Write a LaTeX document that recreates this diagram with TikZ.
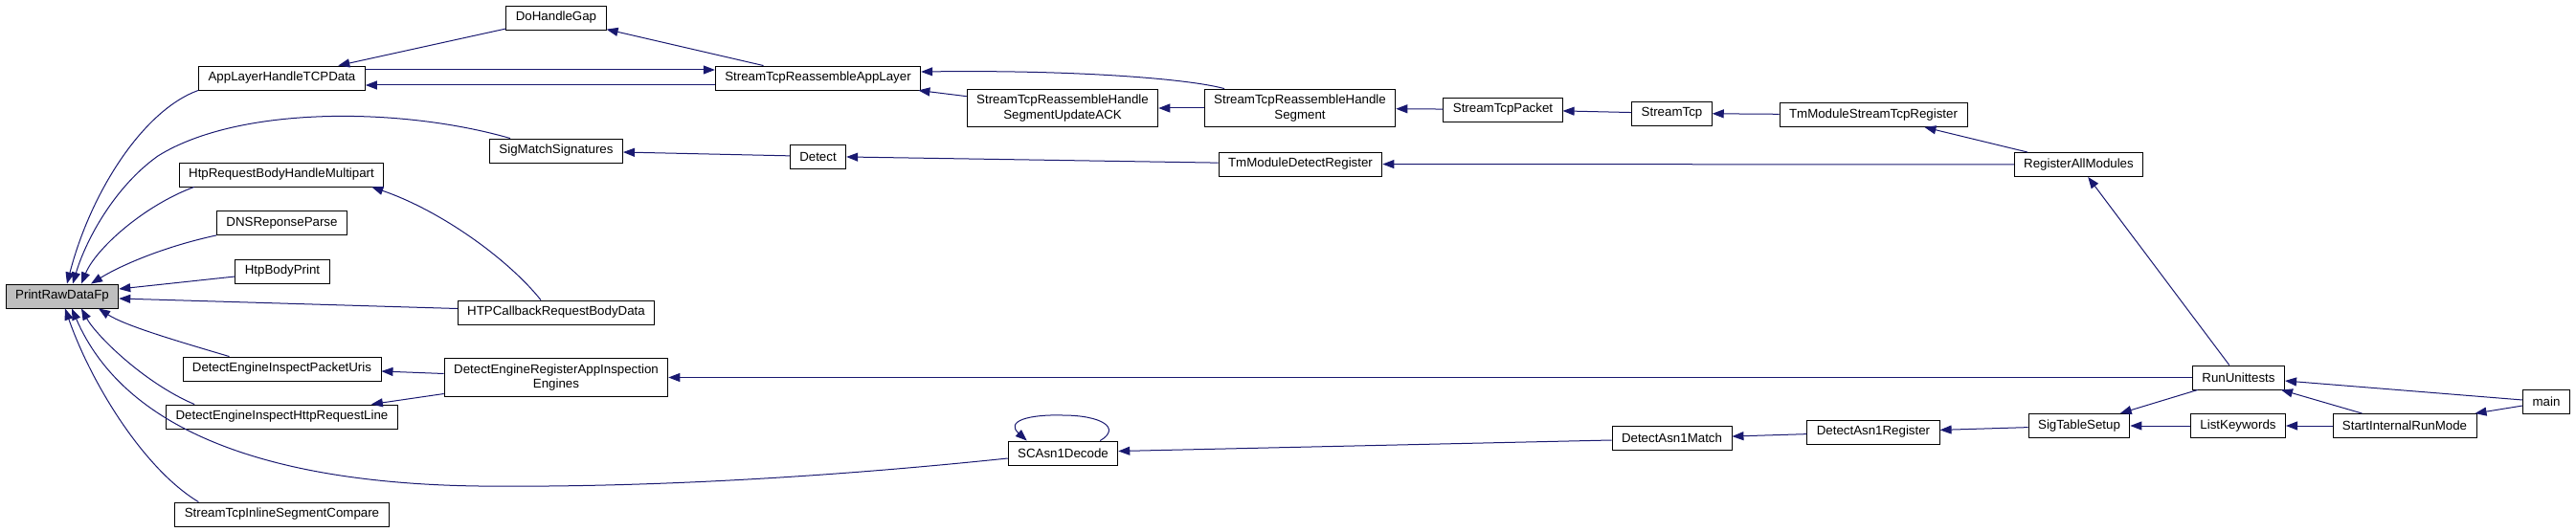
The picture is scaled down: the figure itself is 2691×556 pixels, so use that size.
\documentclass[tikz,border=0pt]{standalone}
\usepackage{fontspec}
\setmainfont{Liberation Sans}
\usetikzlibrary{arrows.meta}
\definecolor{edgeblue}{HTML}{191970}
\definecolor{fngray}{HTML}{BFBFBF}

\begin{document}
\begin{tikzpicture}[x=1pt, y=-1pt,
  fn/.style={draw, fill=white, line width=0.9pt, font=\fontsize{13.3}{15.5}\selectfont,
    inner xsep=10pt, inner ysep=6pt, minimum height=25pt, align=center},
  call/.style={edgeblue, line width=1pt, {Triangle[length=12pt,width=9pt]}-}]
\useasboundingbox (0,0) rectangle (2691,556);

% Function of interest
\node[fn, fill=fngray] (prdf) at (65,309.5) {PrintRawDataFp};

% First rank of callers
\node[fn] (appl) at (294.5,81.5) {AppLayerHandleTCPData};
\node[fn] (htpmp) at (294,182.5) {HtpRequestBodyHandleMultipart};
\node[fn] (dns) at (294.5,233) {DNSReponseParse};
\node[fn] (htpbp) at (295,283.5) {HtpBodyPrint};
\node[fn] (uris) at (294.5,385.5) {DetectEngineInspectPacketUris};
\node[fn] (reqline) at (294.5,435.5) {DetectEngineInspectHttpRequestLine};
\node[fn] (tcpinline) at (294.5,537.5) {StreamTcpInlineSegmentCompare};

% Second rank
\node[fn] (gap) at (581,18.5) {DoHandleGap};
\node[fn] (sigmatch) at (581,157.5) {SigMatchSignatures};
\node[fn] (htpcb) at (581,326.5) {HTPCallbackRequestBodyData};
\node[fn] (regapp) at (581,394.5) {DetectEngineRegisterAppInspection\\Engines};

% Stream and detect chain
\node[fn] (sral) at (854.5,81.5) {StreamTcpReassembleAppLayer};
\node[fn] (detect) at (854.5,163.5) {Detect};
\node[fn] (ack) at (1110,113) {StreamTcpReassembleHandle\\SegmentUpdateACK};
\node[fn] (asn1dec) at (1110.5,473.5) {SCAsn1Decode};
\node[fn] (seg) at (1358,113) {StreamTcpReassembleHandle\\Segment};
\node[fn] (tmdetect) at (1358.5,171.5) {TmModuleDetectRegister};
\node[fn] (pkt) at (1570,114.5) {StreamTcpPacket};
\node[fn] (stcp) at (1746.5,118.5) {StreamTcp};
\node[fn] (asn1match) at (1746.5,458) {DetectAsn1Match};
\node[fn] (tmstcp) at (1957,120) {TmModuleStreamTcpRegister};
\node[fn] (asn1reg) at (1957,451.5) {DetectAsn1Register};

% Top level
\node[fn] (regall) at (2171.5,172) {RegisterAllModules};
\node[fn] (sigsetup) at (2172,445) {SigTableSetup};
\node[fn] (unit) at (2338.5,394.5) {RunUnittests};
\node[fn] (listkw) at (2338,445) {ListKeywords};
\node[fn] (startrun) at (2512,445) {StartInternalRunMode};
\node[fn] (main) at (2660,419.5) {main};

% Calls into PrintRawDataFp
\draw[call] ([xshift=5]prdf.north) .. controls (95,200) and (150,115) .. (appl.south west);
\draw[call] ([xshift=11]prdf.north) .. controls (90,250) and (120,195) .. (165,163)
  .. controls (250,110) and (420,112) .. ([xshift=-48]sigmatch.north);
\draw[call] ([xshift=20]prdf.north) .. controls (100,260) and (150,215) .. ([xshift=16]htpmp.south west);
\draw[call] ([xshift=30]prdf.north) .. controls (125,278) and (170,258) .. (dns.south west);
\draw[call] ([yshift=7.5]prdf.east) -- ([yshift=-5.5]htpbp.west);
\draw[call] ([yshift=-2.5]prdf.east) -- ([yshift=4]htpcb.west);
\draw[call] ([xshift=38]prdf.south) .. controls (130,340) and (180,355) .. ([xshift=49]uris.north west);
\draw[call] ([xshift=20]prdf.south) .. controls (100,350) and (150,400) .. ([xshift=30]reqline.north west);
\draw[call] ([xshift=10]prdf.south) .. controls (130,450) and (280,505) .. (500,508)
  .. controls (700,510) and (900,495) .. ([yshift=-5.5]asn1dec.west);
\draw[call] ([xshift=3]prdf.south) .. controls (95,400) and (150,490) .. ([xshift=25]tcpinline.north west);

% AppLayer and stream reassembly
\draw[call] (appl) -- (gap);
\draw[call] ([yshift=8.5]sral.west) -- ([yshift=8.5]appl.east);
\draw[call] ([yshift=-7.5]appl.east) -- ([yshift=-7.5]sral.west);
\draw[call] (gap) -- ([xshift=-57]sral.north);
\draw[call] (sral) -- (ack);
\draw[call] ([yshift=6.5]sral.east) .. controls (1120,73) and (1240,82) .. ([xshift=-79]seg.north);
\draw[call] (ack) -- (seg);
\draw[call] (seg) -- (pkt);
\draw[call] (pkt) -- (stcp);
\draw[call] (stcp) -- (tmstcp);
\draw[call] (tmstcp) -- (regall);

% Detect
\draw[call] (sigmatch) -- (detect);
\draw[call] (detect) -- (tmdetect);
\draw[call] (tmdetect) -- (regall);
\draw[call] ([xshift=-13]htpmp.south east) .. controls (460,220) and (530,270) .. ([xshift=-16]htpcb.north);
\draw[call] ([yshift=-2.5]uris.east) -- ([yshift=4]regapp.west);
\draw[call] ([xshift=-28]reqline.north east) -- ([yshift=-17]regapp.west);

% Asn1
\draw[call] ([yshift=2]asn1dec.east) -- ([yshift=-2]asn1match.west);
\draw[call] ([xshift=20]asn1dec.north west) .. controls (1050,440) and (1075,433) .. (1110,434)
  .. controls (1150,434) and (1172,447) .. ([xshift=-19]asn1dec.north east);
\draw[call] (asn1match) -- (asn1reg);
\draw[call] (asn1reg) -- (sigsetup);

% Unit tests and main
\draw[call] (regall) -- (unit);
\draw[call] (regapp) -- (unit);
\draw[call] (sigsetup) -- (unit);
\draw[call] (sigsetup) -- (listkw);
\draw[call] (listkw) -- (startrun);
\draw[call] (unit) -- (startrun);
\draw[call] ([yshift=-3.5]unit.east) -- ([yshift=1.5]main.west);
\draw[call] ([xshift=-2]startrun.north east) -- ([yshift=-4.5]main.west);

\end{tikzpicture}
\end{document}
